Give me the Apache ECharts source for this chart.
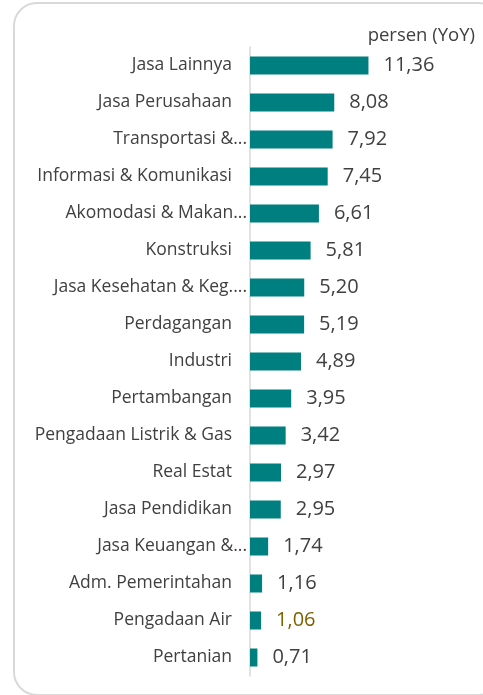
<!DOCTYPE html>
<html>
<head>
<meta charset="utf-8">
<script src="https://cdn.jsdelivr.net/npm/echarts@6/dist/echarts.min.js"></script>
<style>
  html, body { margin: 0; padding: 0; background: #fff; overflow: hidden; }
  #frame {
    position: absolute; left: 13px; top: 2px; width: 490px; height: 694px;
    border: 2px solid #d9d9d9; border-radius: 24px; box-sizing: border-box;
  }
  #chart { position: absolute; left: 0; top: 0; width: 483px; height: 695px; }
</style>
</head>
<body>
<div id="frame"></div>
<div id="chart"></div>
<script>
// sektor, urut dari atas ke bawah
var categories = ['Jasa Lainnya', 'Jasa Perusahaan', 'Transportasi &...', 'Informasi & Komunikasi',
    'Akomodasi & Makan...', 'Konstruksi', 'Jasa Kesehatan & Keg....', 'Perdagangan', 'Industri',
    'Pertambangan', 'Pengadaan Listrik & Gas', 'Real Estat', 'Jasa Pendidikan', 'Jasa Keuangan &...',
    'Adm. Pemerintahan', 'Pengadaan Air', 'Pertanian'];
var values = [11.36, 8.08, 7.92, 7.45, 6.61, 5.81, 5.20, 5.19, 4.89, 3.95, 3.42, 2.97, 2.95, 1.74, 1.16, 1.06, 0.71];
var highlight = ['Pengadaan Air'];
var unitLabel = 'persen (YoY)';

var seriesData = values.map(function (v, i) {
    var item = { value: v };
    if (highlight.indexOf(categories[i]) >= 0) {
        item.label = { color: '#7f6000' };
    }
    return item;
});

var myChart = echarts.init(document.getElementById('chart'));
var option = {
    animation: false,
    textStyle: { fontFamily: 'Open Sans' },
    title: {
        text: unitLabel,
        right: 3,
        top: 21,
        textStyle: { fontSize: 18.5, fontWeight: 'normal', color: '#404040', fontFamily: 'Open Sans' }
    },
    grid: { left: 250, top: 47, bottom: 19, width: 146 },
    xAxis: {
        type: 'value',
        min: 0,
        max: 14,
        show: false
    },
    yAxis: {
        type: 'category',
        inverse: true,
        data: categories,
        axisLine: { show: true, lineStyle: { color: '#d9d9d9', width: 1.5 } },
        axisTick: { show: false },
        axisLabel: {
            fontSize: 17.5, color: '#404040', margin: 3, fontFamily: 'Open Sans',
            // label terpotong (...) menempel ke sumbu seperti di Excel
            formatter: function (v) {
                return /\.\.\.$/.test(v) ? '{t|' + v + '}' : '{n|' + v + '}';
            },
            rich: {
                n: { fontSize: 17.5, color: '#404040', padding: [0, 15, 0, 0] },
                t: { fontSize: 17.5, color: '#404040' }
            }
        }
    },
    series: [{
        type: 'bar',
        data: seriesData,
        barWidth: 18,
        itemStyle: { color: '#007f80' },
        label: {
            show: true,
            position: 'right',
            distance: 15,
            fontSize: 20,
            color: '#404040',
            fontFamily: 'Open Sans',
            formatter: function (p) { return p.value.toFixed(2).replace('.', ','); }
        }
    }]
};
myChart.setOption(option);
</script>
</body>
</html>
